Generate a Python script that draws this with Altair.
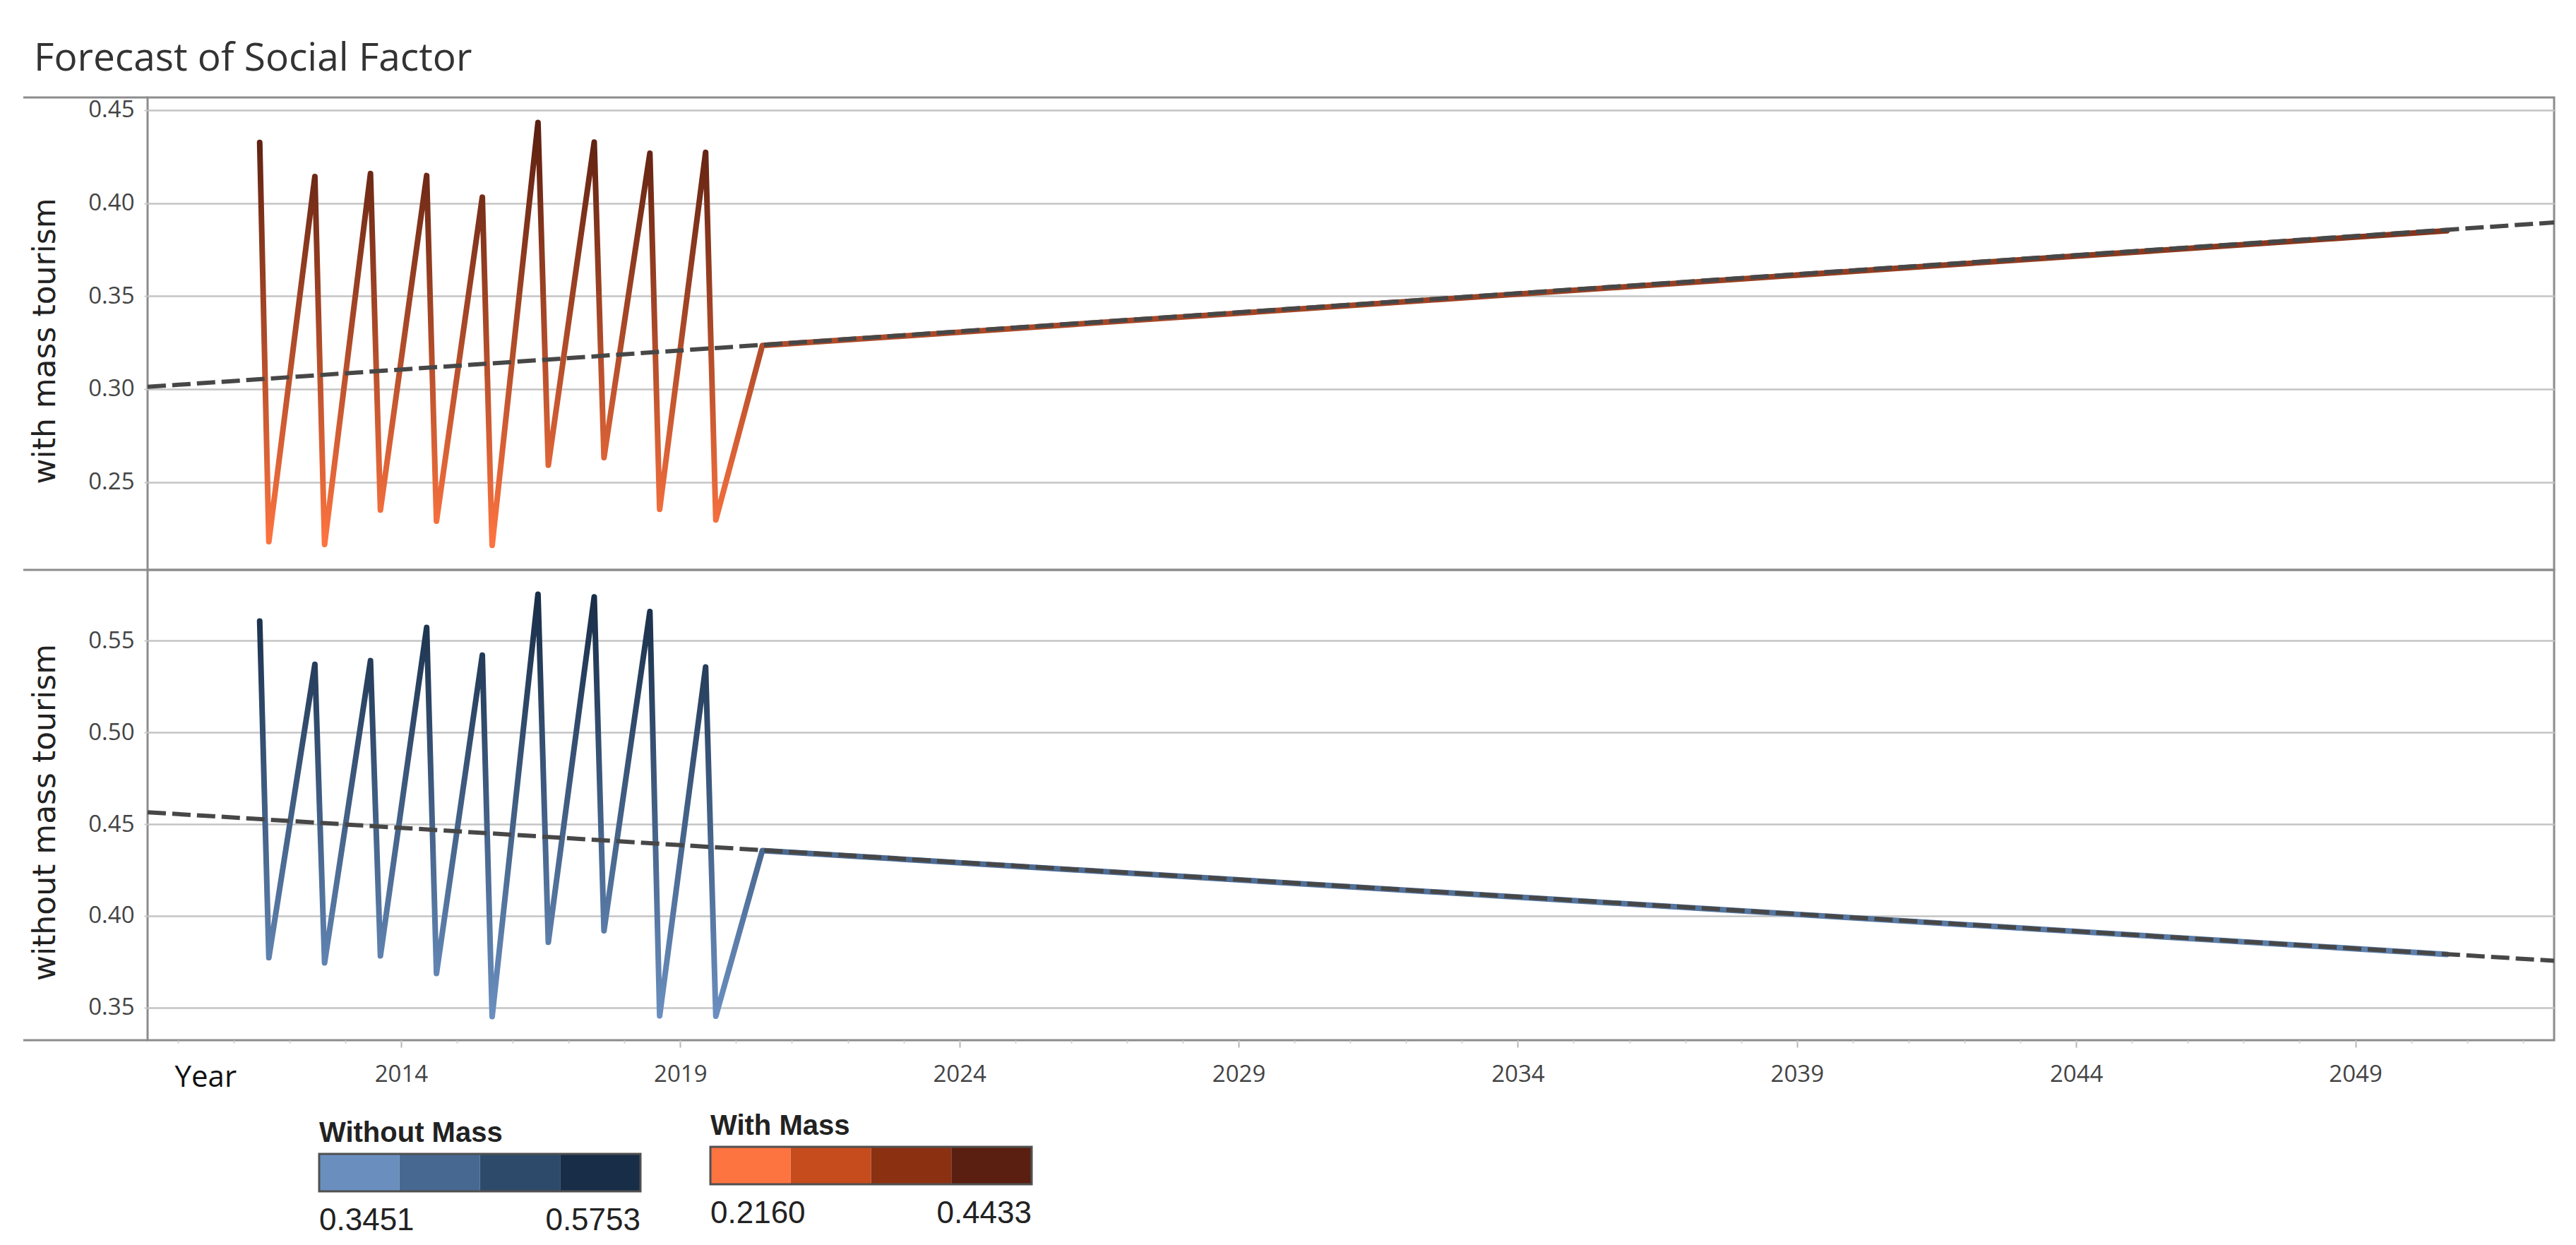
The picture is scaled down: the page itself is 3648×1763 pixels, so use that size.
import altair as alt
import pandas as pd

# ---------------- data ----------------
peak_years = [2011.468, 2012.456, 2013.452, 2014.458, 2015.455, 2016.452, 2017.459, 2018.456, 2019.454]
trough_years = [2011.632, 2012.630, 2013.630, 2014.634, 2015.631, 2016.637, 2017.634, 2018.631, 2019.637]
forecast_years = [2020.47, 2050.64]
trend_years = [2009.46, 2052.56]

with_peaks = [0.4326, 0.4143, 0.4159, 0.4148, 0.4032, 0.4433, 0.4328, 0.4268, 0.4273]
with_troughs = [0.2180, 0.2165, 0.2350, 0.2290, 0.2160, 0.2591, 0.2632, 0.2354, 0.2297]
with_forecast = [0.3234, 0.3851]
with_trend = [0.3012, 0.3896]

without_peaks = [0.5607, 0.5371, 0.5391, 0.5572, 0.5421, 0.5753, 0.5739, 0.5659, 0.5357]
without_troughs = [0.3772, 0.3744, 0.3782, 0.3686, 0.3451, 0.3856, 0.3919, 0.3455, 0.3453]
without_forecast = [0.4356, 0.3790]
without_trend = [0.4565, 0.3755]

x_domain = [2009.46, 2052.56]
with_domain = [0.2028, 0.4568]
without_domain = [0.3322, 0.5886]
major_ticks = [2014, 2019, 2024, 2029, 2034, 2039, 2044, 2049]
minor_ticks = [2010, 2011, 2012, 2013, 2014, 2015, 2016, 2017, 2018, 2019, 2020, 2021,
               2022, 2023, 2024, 2025, 2026, 2027, 2028, 2029, 2030, 2031, 2032, 2033,
               2034, 2035, 2036, 2037, 2038, 2039, 2040, 2041, 2042, 2043, 2044, 2045,
               2046, 2047, 2048, 2049, 2050, 2051, 2052]
with_ticks = [0.25, 0.30, 0.35, 0.40, 0.45]
without_ticks = [0.35, 0.40, 0.45, 0.50, 0.55]

with_legend_range = [0.2160, 0.4433]
without_legend_range = [0.3451, 0.5753]
orange_steps = ["#fe7440", "#c64c1d", "#8c3012", "#5a1f10"]
blue_steps = ["#6a8fbf", "#476891", "#2e4a6a", "#182d47"]

# ---------------- layout constants ----------------
W = 3408
H1 = 669
H2 = 666
HEADER = 176
BORDER = "#8c8c8c"
LABEL_FONT = "Open Sans"
CLEAR = "rgba(0,0,0,0)"


def series(peaks, troughs, forecast):
    xs, ys = [], []
    for px, pv, tx, tv in zip(peak_years, peaks, trough_years, troughs):
        xs += [px, tx]
        ys += [pv, tv]
    xs += forecast_years
    ys += forecast
    return pd.DataFrame({"year": xs, "value": ys, "order": list(range(len(xs)))})


def gradient(light, dark):
    return alt.Gradient(
        gradient="linear",
        stops=[alt.GradientStop(color=light, offset=0),
               alt.GradientStop(color=dark, offset=1)],
        x1=0, x2=0, y1=1, y2=0,
    )


def y_axis(ticks, title, h):
    return alt.Axis(
        values=ticks, format=".2f", title=title,
        titleX=-145, titleY=h / 2 + 10, titleAngle=-90,
        titleAlign="center", titleBaseline="middle",
        titleFont="DejaVu Sans", titleFontSize=44, titleFontWeight="normal",
        titleColor="#222222",
        labelFont=LABEL_FONT, labelFontSize=33, labelColor="#444444",
        labelPadding=14, tickSize=5, tickColor="#c8c8c8", tickWidth=2,
        domain=False, grid=True, gridColor="#c4c4c4", gridWidth=2.5,
    )


def legend_common(title, lx, ly):
    return dict(
        title=title, orient="none", legendX=lx, legendY=ly,
        direction="horizontal", type="gradient",
        gradientLength=455, gradientThickness=53,
        titleFont="Liberation Sans", titleFontSize=40, titleFontWeight="bold",
        titlePadding=9, titleLimit=1000,
        labelFont="Liberation Sans", labelFontSize=44, labelColor="#222222",
        labelOffset=20, labelLimit=400, labelOverlap=False,
        padding=0,
    )


def panel(peaks, troughs, forecast, trend, ydom, yticks, ytitle, h,
          light, dark, steps, legend_range, legend_title, lx, ly, bottom):
    df = series(peaks, troughs, forecast)
    xs = alt.Scale(domain=x_domain, nice=False, zero=False)
    ys = alt.Scale(domain=ydom, nice=False, zero=False)

    if bottom:
        major_axis = alt.Axis(
            values=major_ticks, format="d", title="Year",
            titleX=38, titleY=65, titleAlign="left", titleBaseline="alphabetic",
            titleFont=LABEL_FONT, titleFontSize=42, titleFontWeight="normal",
            titleColor="#111111",
            labelFont=LABEL_FONT, labelFontSize=33, labelColor="#444444",
            labelPadding=22, tickSize=10, tickColor="#b4b4b4", tickWidth=2,
            domain=False, grid=False, labelFlush=False,
        )
        minor_axis = alt.Axis(
            values=minor_ticks, labels=False, ticks=True, tickSize=4,
            tickColor="#d0d0d0", tickWidth=2, domain=False, grid=False,
            title=None, orient="bottom",
        )
    else:
        major_axis = None
        minor_axis = None

    line = alt.Chart(df).mark_line(
        stroke=gradient(light, dark), strokeWidth=8,
        strokeJoin="round", strokeCap="round", clip=True,
    ).encode(
        x=alt.X("year:Q", scale=xs, axis=major_axis),
        y=alt.Y("value:Q", scale=ys, axis=y_axis(yticks, ytitle, h)),
        order="order:Q",
    )

    tdf = pd.DataFrame({"year": trend_years, "value": trend})
    trend_line = alt.Chart(tdf).mark_line(
        color="#474747", strokeWidth=6, strokeDash=[26, 9], clip=True,
    ).encode(
        x=alt.X("year:Q", scale=xs, axis=minor_axis),
        y=alt.Y("value:Q", scale=ys),
    )

    # stepped colour blocks of the legend (discrete gradient, labels hidden)
    block_df = pd.DataFrame({"legend_value": legend_range})
    block_layer = alt.Chart(block_df).mark_point(opacity=0).encode(
        color=alt.Color(
            "legend_value:Q",
            scale=alt.Scale(type="quantize", domain=legend_range, range=steps, nice=False),
            legend=alt.Legend(titleColor="#222222", labelExpr="''",
                              **legend_common(legend_title, lx, ly)),
        ),
    )
    # end labels and frame of the legend (transparent continuous gradient,
    # domain taken from the data so it is not merged with the block legend)
    end_df = pd.DataFrame({"legend_end": legend_range})
    end_layer = alt.Chart(end_df).mark_point(opacity=0).encode(
        stroke=alt.Stroke(
            "legend_end:Q",
            scale=alt.Scale(type="linear", range=[CLEAR, CLEAR], nice=False, zero=False),
            legend=alt.Legend(titleColor=CLEAR, values=legend_range, format=".4f",
                              gradientStrokeColor="#505050", gradientStrokeWidth=3,
                              **legend_common(legend_title, lx, ly)),
        ),
    )

    one = pd.DataFrame({"k": [0]})
    layers = [line, trend_line, block_layer, end_layer]
    edges = [0, h] if not bottom else [h]
    for e in edges:
        layers.append(
            alt.Chart(one).mark_rule(color=BORDER, strokeWidth=3).encode(
                x=alt.value(-HEADER), x2=alt.value(0), y=alt.value(e)
            )
        )
    chart = alt.layer(*layers).properties(width=W, height=h)
    if bottom:
        chart = chart.resolve_axis(x="independent")
    return chart


top = panel(with_peaks, with_troughs, with_forecast, with_trend, with_domain,
            with_ticks, "with mass tourism", H1, "#fe7440", "#5a1f10",
            orange_steps, with_legend_range, "With Mass", 797, 1437, False)
bottom = panel(without_peaks, without_troughs, without_forecast, without_trend,
               without_domain, without_ticks, "without mass tourism", H2,
               "#6a8fbf", "#182d47", blue_steps, without_legend_range,
               "Without Mass", 243, 778, True)

chart = alt.vconcat(top, bottom, spacing=0, bounds="flush").resolve_scale(
    x="independent", y="independent", color="independent", stroke="independent"
).resolve_legend(color="independent", stroke="independent").properties(
    title=alt.TitleParams(
        "Forecast of Social Factor", anchor="start", frame="group", dx=-161,
        offset=-20, baseline="alphabetic",
        font="Open Sans", fontSize=55, fontWeight="normal", color="#333333",
    ),
    padding={"left": 22, "top": 48, "right": 10, "bottom": 0},
).configure_view(stroke=BORDER, strokeWidth=3)

chart.save("out.html", embed_options={"renderer": "svg", "actions": False})
